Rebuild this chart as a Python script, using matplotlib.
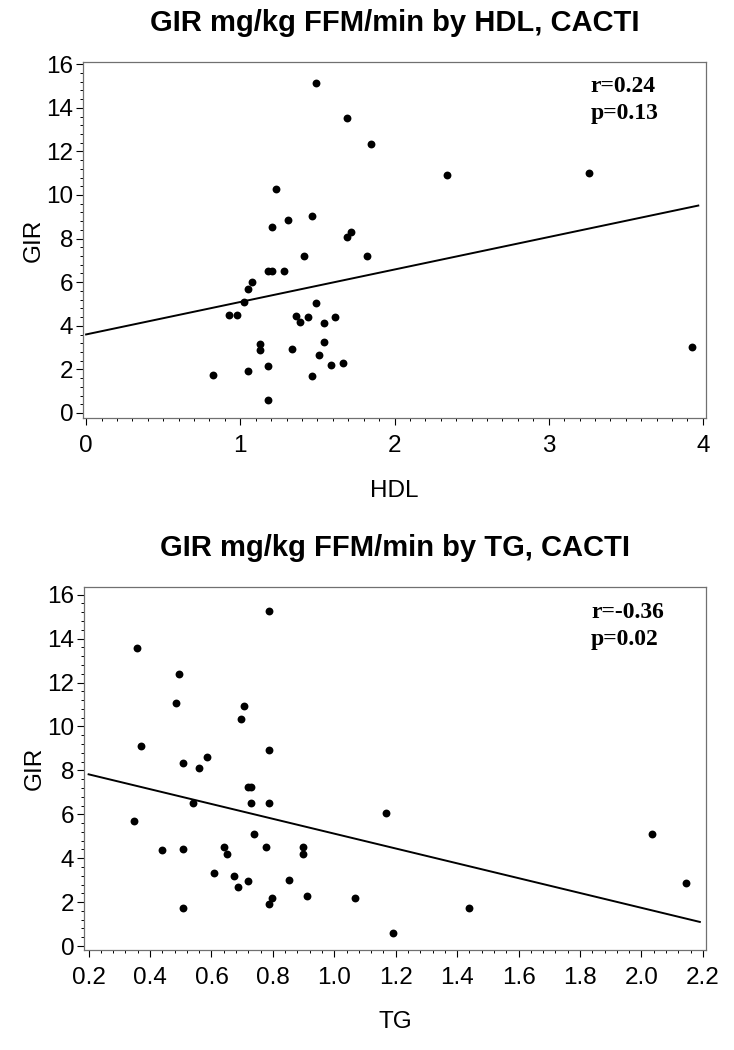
import numpy as np
import matplotlib.pyplot as plt
from matplotlib.ticker import MultipleLocator

# GIR vs HDL (top panel)
hdl = [1.489, 1.695, 1.848, 1.234, 1.465, 1.309, 1.206, 1.721, 1.695, 1.411,
       1.823, 1.177, 1.206, 1.286, 1.078, 1.052, 1.026, 1.489, 0.924, 0.976,
       1.362, 1.439, 1.385, 1.541, 1.617, 1.130, 1.130, 1.333, 1.541, 1.513,
       1.182, 1.591, 1.669, 1.052, 0.820, 1.465, 1.182, 2.34, 3.26, 3.93]
gir_hdl = [15.15, 13.52, 12.34, 10.28, 9.05, 8.85, 8.55, 8.30, 8.06, 7.19,
           7.22, 6.51, 6.51, 6.51, 6.02, 5.67, 5.08, 5.06, 4.48, 4.50,
           4.45, 4.39, 4.16, 4.14, 4.40, 3.18, 2.88, 2.95, 3.27, 2.67,
           2.17, 2.19, 2.29, 1.91, 1.74, 1.70, 0.60, 10.90, 11.01, 3.01]

# GIR vs TG (bottom panel)
tg = [0.786, 0.359, 0.494, 0.483, 0.707, 0.696, 0.370, 0.786, 0.585, 0.506,
      0.561, 0.718, 0.730, 0.539, 0.730, 0.786, 0.348, 1.167, 0.740, 0.438,
      0.506, 0.640, 0.651, 0.776, 0.899, 0.899, 0.607, 0.674, 0.685, 0.720,
      0.854, 0.798, 0.786, 0.911, 1.067, 0.506, 1.191, 2.033, 2.145, 1.438]
gir_tg = [15.24, 13.59, 12.41, 11.08, 10.95, 10.33, 9.09, 8.92, 8.59, 8.35,
          8.09, 7.23, 7.26, 6.53, 6.53, 6.53, 5.70, 6.05, 5.08, 4.39,
          4.42, 4.52, 4.17, 4.50, 4.53, 4.17, 3.32, 3.17, 2.68, 2.95,
          3.03, 2.21, 1.92, 2.29, 2.18, 1.74, 0.59, 5.11, 2.89, 1.71]

stats_hdl = ["r=0.24", "p=0.13"]
stats_tg = ["r=-0.36", "p=0.02"]

plt.rcParams['font.family'] = ['Liberation Sans', 'DejaVu Sans']

fig = plt.figure(figsize=(7.34, 10.5), dpi=100)
W, H = 734, 1050


def panel(box, x, y, stats, xlabel, title, xlim, ylim, xmaj, xmin, xfmt, line_x, xlab_y):
    l, t, r, b = box
    ax = fig.add_axes([l / W, 1 - b / H, (r - l) / W, (b - t) / H])
    ax.scatter(x, y, s=32, color='black', zorder=3, linewidths=0)
    k, c = np.polyfit(x, y, 1)
    lx = np.array(line_x)
    ax.plot(lx, k * lx + c, color='black', lw=1.4)
    ax.set_xlim(*xlim)
    ax.set_ylim(*ylim)
    ax.xaxis.set_major_locator(MultipleLocator(xmaj))
    ax.xaxis.set_minor_locator(MultipleLocator(xmin))
    ax.yaxis.set_major_locator(MultipleLocator(2))
    ax.yaxis.set_minor_locator(MultipleLocator(0.4))
    ax.xaxis.set_major_formatter(xfmt)
    ax.tick_params(which='major', length=5, width=0.8, labelsize=17.5, direction='out')
    ax.tick_params(which='minor', length=2.5, width=0.7, direction='out')
    ax.tick_params(axis='x', pad=7)
    ax.tick_params(axis='y', pad=2)
    for s in ax.spines.values():
        s.set_color('#707070')
        s.set_linewidth(0.9)
    ax.set_xlabel(xlabel, fontsize=17.5)
    ax.set_ylabel('GIR', fontsize=17.5)
    ax.xaxis.set_label_coords(0.5, xlab_y)
    ax.yaxis.set_label_coords(-0.061, 0.5)
    ax.set_title(title, fontsize=21, fontweight='bold', pad=22)
    ax.text(0.815, 0.93, stats[0], transform=ax.transAxes, fontsize=17,
            fontweight='bold', family='Liberation Serif', va='center')
    ax.text(0.815, 0.855, stats[1], transform=ax.transAxes, fontsize=17,
            fontweight='bold', family='Liberation Serif', va='center')
    return ax


panel((83, 62, 706, 418), hdl, gir_hdl, stats_hdl, 'HDL',
      'GIR mg/kg FFM/min by HDL, CACTI', (-0.02, 4.02), (-0.23, 16.1),
      1, 0.1, '{x:.0f}', [0, 3.97], -0.175)
panel((84, 587, 706, 950), tg, gir_tg, stats_tg, 'TG',
      'GIR mg/kg FFM/min by TG, CACTI', (0.185, 2.21), (-0.18, 16.35),
      0.2, 0.04, '{x:.1f}', [0.2, 2.19], -0.168)

fig.savefig('out.png', dpi=100)
